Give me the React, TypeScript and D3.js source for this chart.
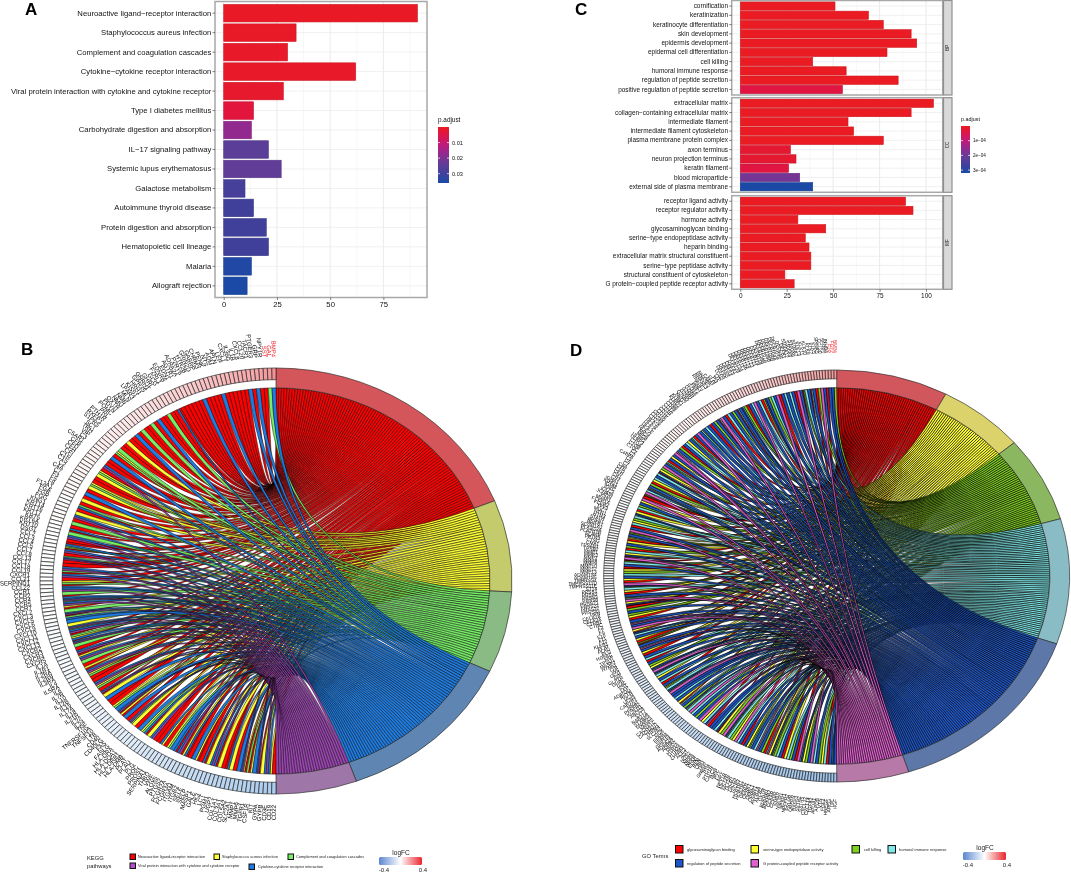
import { useEffect, useRef } from 'react';
import * as d3 from 'd3';

const FONT = '"Liberation Sans", Arial, sans-serif';

// panel A
const keggNames = [
  'Neuroactive ligand−receptor interaction', 'Staphylococcus aureus infection', 'Complement and coagulation cascades',
  'Cytokine−cytokine receptor interaction', 'Viral protein interaction with cytokine and cytokine receptor',
  'Type I diabetes mellitus', 'Carbohydrate digestion and absorption', 'IL−17 signaling pathway',
  'Systemic lupus erythematosus', 'Galactose metabolism', 'Autoimmune thyroid disease',
  'Protein digestion and absorption', 'Hematopoietic cell lineage', 'Malaria', 'Allograft rejection',
];
const keggCounts = [91, 34, 30, 62, 28, 14, 13, 21, 27, 10, 14, 20, 21, 13, 11];
const keggPadj = [0.0005, 0.0008, 0.001, 0.001, 0.0015, 0.004, 0.017, 0.025, 0.024, 0.029, 0.03, 0.03, 0.03, 0.035, 0.036];

// panel C
const bpNames = ['cornification', 'keratinization', 'keratinocyte differentiation', 'skin development', 'epidermis development', 'epidermal cell differentiation', 'cell killing', 'humoral immune response', 'regulation of peptide secretion', 'positive regulation of peptide secretion'];
const bpCounts = [51, 69, 77, 92, 95, 79, 39, 57, 85, 55];
const bpPadj = [0, 0, 0, 0, 0, 0, 0, 0, 0, 0.00004];
const ccNames = ['extracellular matrix', 'collagen−containing extracellular matrix', 'intermediate filament', 'intermediate filament cytoskeleton', 'plasma membrane protein complex', 'axon terminus', 'neuron projection terminus', 'keratin filament', 'blood microparticle', 'external side of plasma membrane'];
const ccCounts = [104, 92, 58, 61, 77, 27, 30, 26, 32, 39];
const ccPadj = [0, 0, 0, 0, 0, 0.00002, 0.00002, 0.00004, 0.00019, 0.00032];
const mfNames = ['receptor ligand activity', 'receptor regulator activity', 'hormone activity', 'glycosaminoglycan binding', 'serine−type endopeptidase activity', 'heparin binding', 'extracellular matrix structural constituent', 'serine−type peptidase activity', 'structural constituent of cytoskeleton', 'G protein−coupled peptide receptor activity'];
const mfCounts = [89, 93, 31, 46, 35, 37, 38, 38, 24, 29];
const mfPadj = [0, 0, 0, 0, 0, 0, 0, 0, 0, 0];

// panel B: terms and genes, genes run anticlockwise from the top
const keggTerms = ['Neuroactive ligand-receptor interaction', 'Staphylococcus aureus infection', 'Complement and coagulation cascades', 'Cytokine-cytokine receptor interaction', 'Viral protein interaction with cytokine and cytokine receptor'];
const keggLetters = 'RYGBP';
const keggGeneTerms = `
B G R R B R B R R R
R R R B R R R R B R
R R R R R RB R R G R
R B R G R R G R B R
R Y R R G YG R B R R
BP R YG Y R R YG Y R B
R Y R GB R Y BP R G R
BR G BP R RB GYR BP R
GBP R R BP GR BP R YG
RB BP G RB BPG BP YR G
BPR GB B Y BPG BP RG YB
RBP G R BP RY BP G R
YR BP YG R R BP YG R
BPR Y B R R YG B BPR
YR B R BPG Y R B YG
BR Y BP R R BY R YG
B BR BP RY BR R B
YR R BR Y BP BR Y
R RB Y R B BPY RG
RY B BPR Y BP BY R`.trim().split(/\s+/);
const keggGeneNames = `
BMP4 GAL SST NPY1R GRP PTGER3 TACR1 CCL20 CXCL8 IL1B
IL36G CXCL1 LEP APLN ADM NTS PENK CHRM3 GABRP GRIN2D
HTR2B P2RY6 ADRA2A AGTR1 EDN1 EDNRB F2RL1 GCG GHRL GNRH1
GPR35 HRH1 KISS1 LPAR3 MLN NMB NMU OXTR PDYN POMC
PRL PTH1R RXFP1 S1PR5 SCT TRH VIP C3 C5AR1 CFB
CFD CFH CFI C1R C1S C2 C4A C7 F3 F5
F8 F13A1 FGA FGB FGG KNG1 KRT14 KRT16 KRT17 KRT5
KRT6A KRT10 DSG1 CCL2 CCL3 CCL4 CCL5 CCL7 CCL8 CCL13
CCL17 CCL18 CCL19 CXCR1 CCL21 SERPIND1 CCL22 CCR1 CCR2 CCR4
CCR5 CCR7 CXCL2 CXCL3 CXCL5 CXCL6 CXCL9 CXCL10 CXCL11 CXCL12
CXCL13 CXCR2 CXCR3 CXCR4 CXCR5 IL1A IL1R1 IL2RA IL2RB IL3RA
IL4 IL5RA IL6 IL7R IL10 IL12B IL15 IL17A IL18 IL21R
IL22 IL24 TNF TNFRSF10A TNFSF10 LTB CD40 CD40LG FAS FASLG
HLA-DRA HLA-DQA1 HLA-DRB1 HLA-DMB PLAT PLAU PLG PROC PROS1 SERPINA1
THBD VWF ALOX5 PTGS2 FCGR2A FCGR3A ITGAM ITGB2 SELE SELP
MASP1 GALE HK3 LCT PGM1 UGP2 COL1A1 COL3A1 COL5A2 SLC2A1
MMP1 MMP9 TGFB1 CSF1R KIT GYPA GYPB CD3E CD19 CD22`.trim().split(/\s+/);
const keggGeneLogFC = [
  0.33, 0.31, 0.3, 0.28, 0.27, 0.26, 0.25, 0.25, 0.24, 0.23,
  0.22, 0.22, 0.21, 0.2, 0.2, 0.19, 0.18, 0.18, 0.17, 0.16,
  0.16, 0.15, 0.14, 0.14, 0.13, 0.13, 0.12, 0.12, 0.11, 0.11,
  0.1, 0.1, 0.09, 0.09, 0.08, 0.08, 0.08, 0.07, 0.07, 0.07,
  0.06, 0.06, 0.06, 0.05, 0.05, 0.05, 0.05, 0.04, 0.04, 0.04,
  0.04, 0.03, 0.03, 0.03, 0.03, 0.03, 0.02, 0.02, 0.02, 0.02,
  0.02, 0.02, 0.01, 0.01, 0.01, 0.01, 0.01, 0.01, 0.01, 0,
  0, 0, 0, 0, 0, 0, 0, 0, 0, 0,
  0, 0, 0, 0, 0, 0, 0, -0.01, -0.01, -0.01,
  -0.01, -0.01, -0.01, -0.01, -0.01, -0.01, -0.02, -0.02, -0.02, -0.02,
  -0.02, -0.02, -0.02, -0.03, -0.03, -0.03, -0.03, -0.03, -0.03, -0.04,
  -0.04, -0.04, -0.04, -0.05, -0.05, -0.05, -0.05, -0.06, -0.06, -0.06,
  -0.07, -0.07, -0.07, -0.08, -0.08, -0.08, -0.09, -0.09, -0.1, -0.1,
  -0.1, -0.11, -0.11, -0.12, -0.12, -0.13, -0.13, -0.14, -0.14, -0.15,
  -0.15, -0.16, -0.16, -0.17, -0.17, -0.18, -0.18, -0.19, -0.19, -0.2,
  -0.2, -0.21, -0.21, -0.22, -0.22, -0.23, -0.23, -0.24, -0.24, -0.25,
  -0.25, -0.26, -0.26, -0.27, -0.27, -0.28, -0.28, -0.29, -0.29, -0.3,
];

// panel D
const goTerms = ['glycosaminoglycan binding', 'serine-type endopeptidase activity', 'cell killing', 'humoral immune response', 'regulation of peptide secretion', 'G protein-coupled peptide receptor activity'];
const goLetters = 'RYGCBM';
const goGeneTerms = `
G B B R B M G R B CR
B C GR B M R B C B C
B R M B C G B BY R C
B M C B R G CB B CR B
G B C R B M CR B G B
R B C B GC B M B R CG
B Y C B R G B CM M B
Y B R CG B M G Y BR C
B C Y R G B YB C M GR
R M Y B G C R Y BC C
G Y C R B M YG B CY R
Y B G R C Y BR M RG C
B R Y G C B Y R M BG
C Y R B GC M Y BR R G
B G Y R B CM B M Y RB
C B Y R GR B CM B Y R
B C R B G Y BC M BC C
Y B C R B GY C BG M B
B C B Y RC B G BY C M
C B G B M Y C BM R B
B C BR Y G M BG C G Y
M C B R B Y GC B C MC
B G R CM Y BY G C B R
Y C G B R M CB Y G B
M C B G Y C R B CB B`.trim().split(/\s+/);
const goGeneNames = `
BMP4 FGF7 F2R INHBA SFRP1 CCL20 SPINK5 KLK5 KLK7 KLK8
KLK10 KLK11 KLK13 S100A7 S100A8 S100A9 S100A12 DEFB1 DEFB4A DEFB103A
DEFB104A DEFB105B DEFB106B DEFB107A DEFB108B DEFB118 DEFB119 DEFB121 DEFB123 DEFB124
DEFB126 DEFB127 DEFB128 DEFB129 DEFA1 DEFA3 DEFA4 DEFA5 DEFA6 LCN2
LTF PI3 SLPI CAMP RNASE2 RNASE3 RNASE7 GNLY PRF1 GZMA
GZMB GZMH GZMK GZMM NKG7 KLRK1 KLRD1 CD8A CD8B CD1A
CD1B CD1C CD1E CD160 CD244 CD226 HLA-A HLA-B HLA-C HLA-E
HLA-G MICA MICB ULBP2 ULBP3 C1QA C1QB C1QC C2 C3
C4BPA C5 C6 C7 C8A CFB CFD CFH CR1 CR2
IGHA1 IGHG1 IGHM IGKC IGLC2 JCHAIN PIGR MS4A1 FCER1A FCER2
TFF3 MUC7 HTN1 HTN3 STATH BPIFA1 BPIFB1 SCGB1A1 PLA2G2A PLA2G1B
ELANE PRTN3 CTSG CMA1 TPSAB1 TPSB2 MMP1 MMP3 MMP7 MMP8
MMP9 MMP10 MMP12 MMP13 ADAMTS4 ADAMTS5 TMPRSS4 TMPRSS11D TMPRSS11E ST14
PRSS1 PRSS2 PRSS3 PRSS8 PRSS21 PRSS22 PRSS27 PRSS33 HPN CELA2A
CELA3A CTRB1 CTRC F2 F7 F9 F10 F11 F12 KLKB1
PLAT PLAU PLG HGFAC FAP TPSD1 MASP2 HTRA1 TTR INS
GCG GIP GLP1R GHRL GAL SST LEP ADIPOQ RETN UCN
UCN3 CARTPT NNAT PFKFB2 KCNJ11 ABCC8 SYT7 RAB27A STXBP5 SNAP25
VAMP2 CACNA1C CACNA1D TRPM4 SLC2A2 GCK FFAR1 FFAR4 GPR119 ADRA2A
ADRB2 DRD2 HTR1A HTR2A CHRM3 ACE2 AGT NOS2 NPPA NPPB
EDN1 REN CRH TRH GNRH1 PTH PTH1R CALCA IAPP PYY
NPY NPY1R NPY2R NPY5R TACR1 TACR2 TACR3 HCRTR1 HCRTR2 OPRD1
OPRK1 OPRL1 OPRM1 AVPR1A AVPR2 OXTR BDKRB1 BDKRB2 CCKAR CCKBR
NMBR NMUR1 NPSR1 NPFFR2 PRLHR QRFPR RXFP3 SSTR2 SSTR5 CXCL12
CXCL14 TGFB2 APOA1 APOB VTN FGF2 HBEGF AREG LPL HGF`.trim().split(/\s+/);
const goGeneLogFC = [
  0.31, 0.3, 0.29, 0.28, 0.27, 0.26, 0.26, 0.25, 0.24, 0.24,
  0.23, 0.22, 0.22, 0.21, 0.21, 0.2, 0.2, 0.19, 0.19, 0.18,
  0.18, 0.17, 0.17, 0.16, 0.16, 0.15, 0.15, 0.14, 0.14, 0.14,
  0.13, 0.13, 0.12, 0.12, 0.12, 0.11, 0.11, 0.1, 0.1, 0.1,
  0.09, 0.09, 0.09, 0.08, 0.08, 0.08, 0.07, 0.07, 0.07, 0.07,
  0.06, 0.06, 0.06, 0.06, 0.05, 0.05, 0.05, 0.05, 0.04, 0.04,
  0.04, 0.04, 0.04, 0.03, 0.03, 0.03, 0.03, 0.03, 0.03, 0.02,
  0.02, 0.02, 0.02, 0.02, 0.02, 0.02, 0.01, 0.01, 0.01, 0.01,
  0.01, 0.01, 0.01, 0.01, 0.01, 0, 0, 0, 0, 0,
  0, 0, 0, 0, 0, 0, 0, 0, 0, 0,
  0, 0, 0, 0, 0, 0, 0, 0, 0, 0,
  0, 0, 0, -0.01, -0.01, -0.01, -0.01, -0.01, -0.01, -0.01,
  -0.01, -0.01, -0.01, -0.01, -0.02, -0.02, -0.02, -0.02, -0.02, -0.02,
  -0.02, -0.02, -0.02, -0.03, -0.03, -0.03, -0.03, -0.03, -0.03, -0.03,
  -0.04, -0.04, -0.04, -0.04, -0.04, -0.05, -0.05, -0.05, -0.05, -0.05,
  -0.06, -0.06, -0.06, -0.06, -0.07, -0.07, -0.07, -0.07, -0.08, -0.08,
  -0.08, -0.09, -0.09, -0.09, -0.1, -0.1, -0.1, -0.11, -0.11, -0.11,
  -0.12, -0.12, -0.12, -0.13, -0.13, -0.13, -0.14, -0.14, -0.14, -0.15,
  -0.15, -0.15, -0.16, -0.16, -0.16, -0.17, -0.17, -0.17, -0.18, -0.18,
  -0.18, -0.19, -0.19, -0.19, -0.2, -0.2, -0.2, -0.21, -0.21, -0.21,
  -0.22, -0.22, -0.22, -0.23, -0.23, -0.23, -0.24, -0.24, -0.24, -0.25,
  -0.25, -0.25, -0.25, -0.26, -0.26, -0.26, -0.27, -0.27, -0.27, -0.27,
  -0.28, -0.28, -0.28, -0.28, -0.29, -0.29, -0.29, -0.29, -0.3, -0.3,
  -0.3, -0.3, -0.31, -0.31, -0.31, -0.31, -0.32, -0.32, -0.32, -0.32,
  -0.33, -0.33, -0.33, -0.33, -0.34, -0.34, -0.34, -0.34, -0.35, -0.35,
];

const PADJ_COLORS = ['#ea1b22', '#e2153d', '#c41a78', '#93298f', '#5e3e98', '#41409b', '#1a4aa6'];
const PADJ_STOPS = [0, 0.11, 0.3, 0.47, 0.68, 0.83, 1];
const GENE_FC = d3.scaleLinear<string>().domain([-0.65, 0, 0.65]).range(['#4a90d9', '#ffffff', '#e8272c']);

type Sel = d3.Selection<SVGGElement, unknown, null, undefined>;

function padjScale(max: number) {
  return d3.scaleLinear<string>().domain(PADJ_STOPS.map((s) => s * max)).range(PADJ_COLORS);
}

function drawBars(
  g: Sel,
  names: string[],
  counts: number[],
  padj: number[],
  color: (v: number) => string,
  frame: { x0: number; x1: number; y0: number; y1: number },
  x: d3.ScaleLinear<number, number>,
  ticks: number[],
  fontSize: number,
  showAxis: boolean
) {
  const y = d3.scaleBand<string>().domain(names).range([frame.y0, frame.y1]).paddingInner(0.1).paddingOuter(0.15);

  const minor = ticks.map((t) => t + (ticks[1] - ticks[0]) / 2).filter((t) => x(t) < frame.x1);
  g.append('g').selectAll('line').data(minor).join('line')
    .attr('x1', (d) => x(d)).attr('x2', (d) => x(d)).attr('y1', frame.y0).attr('y2', frame.y1)
    .attr('stroke', '#f1f1f1').attr('stroke-width', 0.6);
  g.append('g').selectAll('line').data(ticks).join('line')
    .attr('x1', (d) => x(d)).attr('x2', (d) => x(d)).attr('y1', frame.y0).attr('y2', frame.y1)
    .attr('stroke', '#e8e8e8').attr('stroke-width', 0.9);
  g.append('g').selectAll('line').data(names).join('line')
    .attr('x1', frame.x0).attr('x2', frame.x1)
    .attr('y1', (d) => (y(d) ?? 0) + y.bandwidth() / 2).attr('y2', (d) => (y(d) ?? 0) + y.bandwidth() / 2)
    .attr('stroke', '#ececec').attr('stroke-width', 0.8);

  g.append('g').selectAll('rect').data(names).join('rect')
    .attr('x', x(0))
    .attr('y', (d) => y(d) ?? 0)
    .attr('width', (_d, i) => x(counts[i]) - x(0))
    .attr('height', y.bandwidth())
    .attr('fill', (_d, i) => color(padj[i]))
    .attr('stroke', (_d, i) => d3.color(color(padj[i]))?.darker(0.35).formatHex() ?? '#000')
    .attr('stroke-width', 0.6);

  g.append('rect')
    .attr('x', frame.x0).attr('y', frame.y0)
    .attr('width', frame.x1 - frame.x0).attr('height', frame.y1 - frame.y0)
    .attr('fill', 'none').attr('stroke', '#a8a8a8').attr('stroke-width', 1.5);

  const left = g.append('g').attr('transform', `translate(${frame.x0},0)`)
    .call(d3.axisLeft(y).tickSize(2.5).tickPadding(1.2));
  left.select('.domain').remove();
  left.selectAll('text').attr('font-size', fontSize).attr('font-family', FONT).attr('fill', '#111');
  left.selectAll('line').attr('stroke', '#333').attr('stroke-width', 0.6);

  if (showAxis) {
    const bottom = g.append('g').attr('transform', `translate(0,${frame.y1})`)
      .call(d3.axisBottom(x).tickValues(ticks).tickFormat((d) => String(d)).tickSize(2.5).tickPadding(1.5));
    bottom.select('.domain').remove();
    bottom.selectAll('text').attr('font-size', fontSize).attr('font-family', FONT).attr('fill', '#111');
    bottom.selectAll('line').attr('stroke', '#333').attr('stroke-width', 0.6);
  }
}

function drawPadjLegend(
  svg: d3.Selection<SVGSVGElement, unknown, null, undefined>,
  id: string,
  color: d3.ScaleLinear<string, string>,
  labels: string[],
  values: number[],
  box: { x: number; y: number; w: number; h: number },
  fontSize: number
) {
  const dom = color.domain();
  const lo = dom[0];
  const hi = dom[dom.length - 1];
  const grad = svg.append('defs').append('linearGradient').attr('id', id)
    .attr('x1', 0).attr('x2', 0).attr('y1', 0).attr('y2', 1);
  d3.range(0, 1.01, 0.05).forEach((t) => {
    grad.append('stop').attr('offset', t).attr('stop-color', color(lo + (hi - lo) * t));
  });
  svg.append('rect').attr('x', box.x).attr('y', box.y).attr('width', box.w).attr('height', box.h)
    .attr('fill', `url(#${id})`);
  const y = d3.scaleLinear().domain([lo, hi]).range([box.y, box.y + box.h]);
  values.forEach((v, i) => {
    svg.append('line').attr('x1', box.x).attr('x2', box.x + 2).attr('y1', y(v)).attr('y2', y(v)).attr('stroke', '#fff').attr('stroke-width', 0.7);
    svg.append('line').attr('x1', box.x + box.w - 2).attr('x2', box.x + box.w).attr('y1', y(v)).attr('y2', y(v)).attr('stroke', '#fff').attr('stroke-width', 0.7);
    svg.append('text').attr('x', box.x + box.w + 3).attr('y', y(v)).attr('dy', '0.35em')
      .attr('font-size', fontSize).attr('font-family', FONT).attr('fill', '#111').text(labels[i]);
  });
  svg.append('text').attr('x', box.x).attr('y', box.y - 5)
    .attr('font-size', fontSize + 0.8).attr('font-family', FONT).attr('fill', '#111').text('p.adjust');
}

function drawChord(
  svg: d3.Selection<SVGSVGElement, unknown, null, undefined>,
  opts: {
    cx: number; cy: number; rx: number; ry: number; ringIn: number; geneIn: number;
    letters: string; ringColors: string[]; ribbonColors: string[];
    geneTerms: string[]; geneNames: string[]; geneFC: number[];
    labelRx: number; labelRy: number; labelSize: number; ribbonWidth: number;
  }
) {
  const { cx, cy, rx, ry, ringIn, geneIn, letters, geneTerms, geneNames, geneFC } = opts;
  const scaleY = ry / rx;
  const nTerms = letters.length;
  const counts = d3.range(nTerms).map((i) => geneTerms.filter((t) => t.includes(letters[i])).length);
  const total = d3.sum(counts);
  const termStart: number[] = [];
  counts.reduce((acc, c, i) => {
    termStart[i] = acc;
    return acc + (c / total) * Math.PI;
  }, 0);
  const cell = Math.PI / total;
  const geneStep = Math.PI / geneTerms.length;

  const g = svg.append('g').attr('transform', `translate(${cx},${cy}) scale(1,${scaleY})`);
  const ribbon = d3.ribbon<unknown, { startAngle: number; endAngle: number; radius?: number }>().radius(ringIn);
  const used = letters.split('').map(() => 0);
  const links: { term: number; d: string }[] = [];
  geneTerms.forEach((terms, gi) => {
    const start = -gi * geneStep;
    const part = geneStep / terms.length;
    terms.split('').forEach((letter, k) => {
      const term = letters.indexOf(letter);
      const a0 = termStart[term] + used[term] * cell;
      used[term] += 1;
      const d = ribbon({
        source: { startAngle: a0, endAngle: a0 + cell },
        target: { startAngle: start - (k + 1) * part, endAngle: start - k * part },
      } as never) as unknown as string;
      links.push({ term, d });
    });
  });
  links.sort((a, b) => d3.ascending(a.term, b.term));

  g.append('g').selectAll('path').data(links).join('path')
    .attr('d', (l) => l.d)
    .attr('fill', (l) => opts.ribbonColors[l.term])
    .attr('stroke', '#000').attr('stroke-width', opts.ribbonWidth);

  const termArc = d3.arc<number>()
    .innerRadius(ringIn).outerRadius(rx)
    .startAngle((i) => termStart[i])
    .endAngle((i) => termStart[i] + counts[i] * cell);
  g.append('g').selectAll('path').data(d3.range(nTerms)).join('path')
    .attr('d', (i) => termArc(i) ?? '')
    .attr('fill', (i) => opts.ringColors[i])
    .attr('stroke', '#2c2c2c').attr('stroke-width', 0.7);

  const geneArc = d3.arc<number>()
    .innerRadius(geneIn).outerRadius(rx)
    .startAngle((i) => -(i + 1) * geneStep)
    .endAngle((i) => -i * geneStep);
  g.append('g').selectAll('path').data(d3.range(geneTerms.length)).join('path')
    .attr('d', (i) => geneArc(i) ?? '')
    .attr('fill', (i) => GENE_FC(geneFC[i]))
    .attr('stroke', '#222').attr('stroke-width', 0.7);

  svg.append('g').selectAll('text').data(d3.range(geneTerms.length)).join('text')
    .attr('transform', (i) => {
      const a = -(i + 0.5) * geneStep;
      const px = opts.labelRx * Math.sin(a);
      const py = -opts.labelRy * Math.cos(a);
      const rot = (Math.atan2(-py, -px) * 180) / Math.PI;
      return `translate(${cx + px},${cy + py}) rotate(${rot})`;
    })
    .attr('text-anchor', 'end').attr('dy', '0.35em')
    .attr('font-size', opts.labelSize).attr('font-family', FONT)
    .attr('fill', (i) => (i < 3 ? '#ee1c25' : '#000'))
    .text((i) => geneNames[i] ?? '');
}

function drawFcLegend(svg: d3.Selection<SVGSVGElement, unknown, null, undefined>, id: string, x0: number, y0: number) {
  const grad = svg.append('defs').append('linearGradient').attr('id', id);
  [-0.4, -0.2, 0, 0.2, 0.4].forEach((v, i) => {
    grad.append('stop').attr('offset', i / 4).attr('stop-color', d3.scaleLinear<string>().domain([-0.4, 0, 0.4]).range(['#5b86d0', '#ffffff', '#e8272c'])(v));
  });
  svg.append('rect').attr('x', x0).attr('y', y0).attr('width', 43).attr('height', 8).attr('rx', 1.5).attr('fill', `url(#${id})`);
  const text = (x: number, y: number, s: string, size: number) =>
    svg.append('text').attr('x', x).attr('y', y).attr('text-anchor', 'middle').attr('font-size', size).attr('font-family', FONT).attr('fill', '#222').text(s);
  text(x0 + 22, y0 - 2.5, 'logFC', 6.5);
  text(x0 + 5, y0 + 15, '-0.4', 6);
  text(x0 + 44, y0 + 15, '0.4', 6);
}

function App() {
  const ref = useRef<SVGSVGElement>(null);

  useEffect(() => {
    const el = ref.current;
    if (!el) return;
    const svg = d3.select<SVGSVGElement, unknown>(el);
    svg.selectAll('*').remove();

    const letter = (s: string, x: number, y: number) =>
      svg.append('text').attr('x', x).attr('y', y).attr('font-size', 17).attr('font-weight', 'bold').attr('font-family', FONT).attr('fill', '#000').text(s);
    letter('A', 25, 15);
    letter('C', 575, 15);
    letter('B', 21, 355);
    letter('D', 570, 356);

    // A
    const colorA = padjScale(0.036);
    const xA = d3.scaleLinear().domain([-4.09, 95.5]).range([215, 427]);
    drawBars(svg.append('g'), keggNames, keggCounts, keggPadj, colorA, { x0: 215, x1: 427, y0: 1.5, y1: 297.5 }, xA, [0, 25, 50, 75], 7.7, true);
    drawPadjLegend(svg, 'padjA', colorA, ['0.01', '0.02', '0.03'], [0.01, 0.02, 0.03], { x: 438, y: 127, w: 11, h: 56 }, 5.6);

    // C
    const colorC = padjScale(0.00032);
    const xC = d3.scaleLinear().domain([-4.63, 109]).range([731.7, 942.7]);
    const facets = [
      { names: bpNames, counts: bpCounts, padj: bpPadj, y0: 0.5, y1: 95, strip: 'BP' },
      { names: ccNames, counts: ccCounts, padj: ccPadj, y0: 97.7, y1: 192.3, strip: 'CC' },
      { names: mfNames, counts: mfCounts, padj: mfPadj, y0: 195.7, y1: 289.3, strip: 'MF' },
    ];
    facets.forEach((f, i) => {
      drawBars(svg.append('g'), f.names, f.counts, f.padj, colorC, { x0: 731.7, x1: 942.7, y0: f.y0, y1: f.y1 }, xC, [0, 25, 50, 75, 100], 6.45, i === 2);
      svg.append('rect').attr('x', 943.5).attr('y', f.y0).attr('width', 8.5).attr('height', f.y1 - f.y0)
        .attr('fill', '#d9d9d9').attr('stroke', '#8f8f8f').attr('stroke-width', 1.2);
      svg.append('text')
        .attr('transform', `translate(947.8,${(f.y0 + f.y1) / 2}) rotate(-90)`)
        .attr('text-anchor', 'middle').attr('dy', '0.35em')
        .attr('font-size', 4.5).attr('font-family', FONT).attr('fill', '#222').text(f.strip);
    });
    drawPadjLegend(svg, 'padjC', colorC, ['1e−04', '2e−04', '3e−04'], [0.0001, 0.0002, 0.0003], { x: 961, y: 126, w: 9, h: 47 }, 4.6);

    // B
    drawChord(svg, {
      cx: 276, cy: 581, rx: 236, ry: 213, ringIn: 214, geneIn: 223,
      letters: keggLetters,
      ringColors: ['#d4565a', '#c3cb6c', '#8bbb85', '#5f86b2', '#9e76a8'],
      ribbonColors: ['#ff0000', '#ffff33', '#77ee66', '#1e7be0', '#9b45b0'],
      geneTerms: keggGeneTerms, geneNames: keggGeneNames, geneFC: keggGeneLogFC,
      labelRx: 246, labelRy: 224, labelSize: 6, ribbonWidth: 0.5,
    });

    // D
    drawChord(svg, {
      cx: 836.7, cy: 576, rx: 233, ry: 206, ringIn: 213, geneIn: 223,
      letters: goLetters,
      ringColors: ['#d2575c', '#dbd26c', '#8ab75f', '#8abcc6', '#5d78a8', '#b77aa8'],
      ribbonColors: ['#ff0000', '#ffff33', '#80d020', '#80e8e8', '#1d55c8', '#e060d0'],
      geneTerms: goGeneTerms, geneNames: goGeneNames, geneFC: goGeneLogFC,
      labelRx: 240, labelRy: 223, labelSize: 4.8, ribbonWidth: 0.65,
    });

    // legends below the chords
    const swatch = (x: number, y: number, size: number, fill: string, label: string, labelX: number, labelY: number, fs: number) => {
      svg.append('rect').attr('x', x).attr('y', y).attr('width', size).attr('height', size)
        .attr('fill', fill).attr('stroke', '#111').attr('stroke-width', 1);
      svg.append('text').attr('x', labelX).attr('y', labelY).attr('dy', '0.35em')
        .attr('font-size', fs).attr('font-family', FONT).attr('fill', '#222').text(label);
    };
    const plain = (x: number, y: number, s: string, size: number) =>
      svg.append('text').attr('x', x).attr('y', y).attr('font-size', size).attr('font-family', FONT).attr('fill', '#222').text(s);

    plain(87, 860, 'KEGG', 5.8);
    plain(87, 867.5, 'pathways', 5.8);
    swatch(130, 854, 5.5, '#ff0000', keggTerms[0], 138, 857, 3.9);
    swatch(214, 854, 5.5, '#ffff33', keggTerms[1], 222, 857, 3.9);
    swatch(288, 854, 5.5, '#77ee66', keggTerms[2], 296, 857, 3.9);
    swatch(130, 863, 5.5, '#b04fc8', keggTerms[4], 138, 866, 3.9);
    swatch(249, 864, 5.5, '#1e7be0', keggTerms[3], 258, 867, 3.9);
    drawFcLegend(svg, 'fcB', 379, 857);

    plain(642, 858, 'GO Terms', 5.8);
    swatch(675.5, 845.5, 7.5, '#ff0000', goTerms[0], 687, 849.5, 4);
    swatch(751, 845.5, 7.5, '#ffff33', goTerms[1], 763, 849.5, 4);
    swatch(852, 845.5, 7.5, '#80d020', goTerms[2], 864, 849.5, 4);
    swatch(888, 845.5, 7.5, '#80e8e8', goTerms[3], 899, 849.5, 4);
    swatch(675.5, 859.5, 7.5, '#1d55c8', goTerms[4], 687, 863.5, 4);
    swatch(751, 859.5, 7.5, '#e060d0', goTerms[5], 763, 863.5, 4);
    drawFcLegend(svg, 'fcD', 963, 852);
  }, []);

  return (
    <svg
      ref={ref}
      width={1071}
      height={873}
      viewBox="0 0 1071 873"
      style={{ position: 'absolute', left: 0, top: 0, filter: 'blur(0.3px)' }}
    />
  );
}

export default App;
